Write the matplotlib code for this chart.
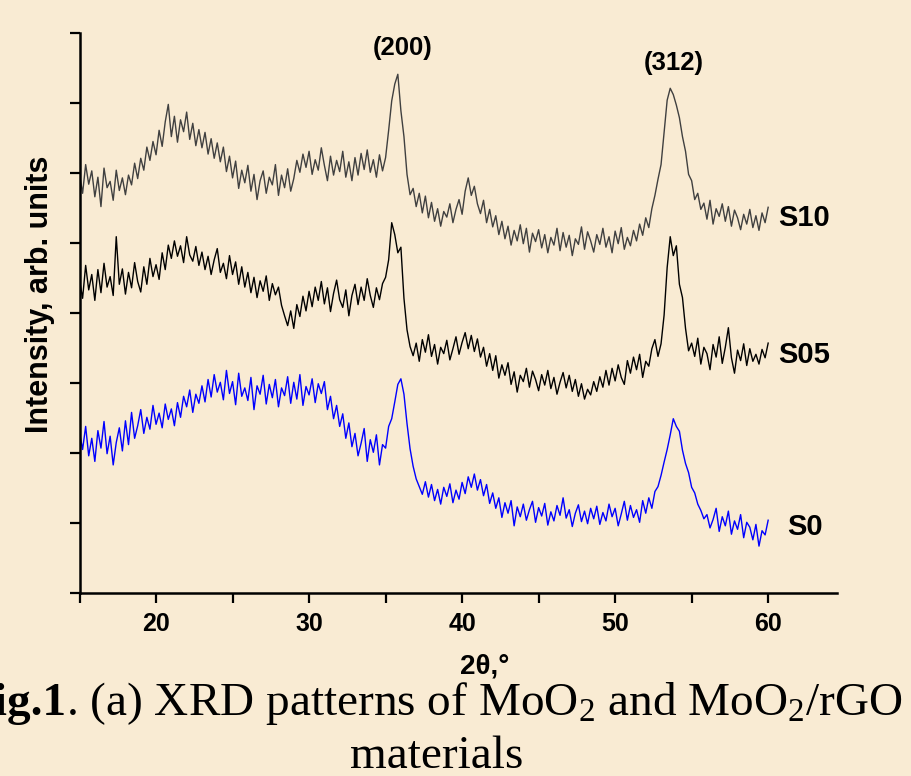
import numpy as np
import matplotlib
matplotlib.use('Agg')
import matplotlib.pyplot as plt

plt.rcParams['font.family'] = ['Liberation Sans', 'DejaVu Sans']
plt.rcParams['mathtext.fontset'] = 'custom'
plt.rcParams['mathtext.rm'] = 'Liberation Serif'
plt.rcParams['mathtext.bf'] = 'Liberation Serif:bold'
plt.rcParams['mathtext.it'] = 'Liberation Serif:italic'

# XRD patterns, 2theta 15..60 deg, step 0.2 (curves already stacked, x100)
s0 = [229, 205, 238, 196, 221, 188, 232, 207, 245, 199,
      224, 183, 215, 236, 203, 246, 212, 258, 221, 239,
      262, 228, 251, 234, 268, 241, 257, 236, 270, 248,
      263, 239, 272, 251, 281, 266, 290, 258, 284, 271,
      296, 273, 305, 280, 312, 287, 301, 276, 318, 285,
      302, 269, 314, 281, 293, 275, 308, 262, 296, 284,
      311, 270, 298, 279, 305, 266, 293, 282, 309, 271,
      301, 277, 312, 268, 295, 283, 306, 272, 299, 285,
      302, 262, 281, 249, 268, 238, 256, 221, 243, 209,
      228, 196, 214, 235, 188, 219, 201, 226, 183, 212,
      207, 238, 249, 273, 298, 306, 284, 242, 206, 181,
      163, 152, 141, 159, 137, 155, 132, 148, 127, 151,
      138, 156, 129, 147, 134, 158, 142, 166, 151, 170,
      147, 162, 139, 155, 128, 143, 121, 136, 108, 129,
      114, 132, 96, 123, 109, 127, 104, 119, 131, 101,
      122, 110, 128, 97, 116, 103, 125, 111, 136, 107,
      119, 95, 114, 126, 102, 117, 99, 121, 106, 124,
      98, 115, 103, 127, 109, 121, 96, 113, 131, 104,
      125, 108, 119, 101, 132, 114, 136, 121, 145, 152,
      168, 187, 205, 226, 249, 238, 231, 204, 185, 172,
      151, 143, 127, 118, 106, 112, 93, 105, 121, 88,
      109, 96, 117, 84, 103, 91, 112, 79, 101, 94,
      76, 98, 67, 89, 83, 104]

s05 = [447, 421, 468, 433, 455, 418, 462, 429, 471, 437,
       452, 425, 509, 441, 463, 427, 458, 436, 472, 445,
       430, 466, 441, 478, 452, 469, 448, 486, 462, 497,
       478, 503, 481, 496, 472, 509, 483, 474, 495, 468,
       487, 462, 481, 455, 476, 492, 458, 471, 449, 482,
       455, 473, 441, 466, 437, 458, 429, 451, 422, 446,
       431, 453, 418, 442, 426, 437, 411, 396, 382, 403,
       378, 412, 395, 424, 403, 431, 409, 437, 418, 445,
       413, 436, 402, 428, 447, 419, 408, 433, 396, 425,
       441, 412, 437, 418, 449, 425, 408, 436, 419, 442,
       451, 476, 529, 512, 486, 494, 421, 376, 352, 339,
       357, 331, 362, 344, 369, 338, 355, 327, 351, 342,
       361, 333, 349, 366, 341, 358, 372, 349, 368, 345,
       363, 337, 351, 324, 342, 318, 339, 307, 326, 311,
       329, 298, 316, 287, 311, 302, 321, 294, 317, 305,
       289, 312, 297, 318, 292, 308, 284, 301, 315, 293,
       311, 288, 305, 281, 299, 277, 291, 283, 302, 288,
       309, 294, 318, 297, 321, 303, 326, 308, 298, 332,
       314, 337, 319, 341, 308, 331, 324, 349, 362, 338,
       356, 397, 465, 509, 482, 496, 441, 422, 378, 346,
       357, 338, 364, 327, 351, 342, 319, 355, 337, 366,
       328, 351, 379, 336, 314, 347, 332, 356, 325, 349,
       331, 341, 327, 348, 336, 357]

s10 = [598, 571, 612, 584, 603, 566, 594, 552, 607, 579,
       588, 561, 604, 575, 593, 569, 597, 583, 614, 592,
       621, 604, 637, 618, 645, 626, 661, 638, 673, 698,
       652, 681, 644, 676, 659, 687, 648, 671, 639, 662,
       636, 658, 627, 649, 621, 643, 616, 637, 602, 624,
       593, 617, 578, 604, 586, 611, 574, 598, 562, 589,
       603, 571, 594, 583, 612, 568, 597, 579, 606, 574,
       592, 618, 601, 627, 608, 631, 598, 619, 604, 636,
       611, 589, 624, 597, 618, 602, 631, 594, 616, 589,
       622, 597, 628, 605, 633, 601, 619, 594, 626, 603,
       622, 661, 703, 727, 741, 689, 652, 598, 569, 578,
       552, 571, 543, 567, 536, 558, 531, 549, 524, 545,
       537, 556, 529, 548, 562, 541, 574, 593, 568, 581,
       556, 542, 561, 529, 548, 523, 539, 512, 531, 506,
       524, 497, 518, 503, 526, 499, 521, 487, 514, 502,
       519, 493, 512, 486, 508, 497, 521, 489, 515, 494,
       511, 482, 506, 498, 523, 491, 516, 503, 487, 512,
       498, 521, 494, 509, 486, 517, 499, 522, 491, 508,
       496, 518, 503, 527, 511, 536, 522, 549, 568, 591,
       612, 658, 704, 721, 712, 697, 679, 652, 631, 598,
       589, 562, 571, 548, 557, 534, 561, 527, 549, 538,
       556, 531, 552, 524, 547, 536, 519, 541, 527, 548,
       522, 539, 518, 543, 529, 551]

two_theta = np.linspace(15, 60, len(s0))

names = ['S10', 'S05', 'S0']
colors = ['#404040', 'black', 'blue']
name_pos = [(60.65, 5.36), (60.65, 3.40), (61.25, 0.94)]

peaks = ['(200)', '(312)']
peak_pos = [(36.1, 7.79), (53.8, 7.57)]

bg = '#f9ebd3'
fig = plt.figure(figsize=(9.11, 7.76), dpi=100, facecolor=bg)
ax = fig.add_axes([0.0873, 0.2358, 0.8315, 0.7217], facecolor=bg)

for s, c in zip([s10, s05, s0], colors):
    ax.plot(two_theta, np.array(s) / 100.0, color=c, lw=1.0)

for n, (px, py) in zip(names, name_pos):
    ax.text(px, py, n, fontsize=21, fontweight='bold', ha='left', va='center')
for p, (px, py) in zip(peaks, peak_pos):
    ax.text(px, py, p, fontsize=18.5, fontweight='bold', ha='center', va='center')

ax.set_xlim(15, 64.5)
ax.set_ylim(0, 8)
ax.set_xticks([20, 30, 40, 50, 60])
ax.set_xticks([15, 25, 35, 45, 55], minor=True)
ax.set_yticks(range(0, 9))
ax.set_yticklabels([])
for side in ['top', 'right']:
    ax.spines[side].set_visible(False)
for side in ['left', 'bottom']:
    ax.spines[side].set_linewidth(1.8)
ax.tick_params(which='both', direction='out', length=7, width=1.6)
ax.tick_params(axis='x', labelsize=18, pad=6.5)
for lab in ax.get_xticklabels():
    lab.set_fontweight('bold')

fig.text(40 / 911, 1 - 294 / 776, 'Intensity, arb. units', rotation=90,
         fontsize=22, fontweight='bold', ha='center', va='center')
fig.text(485 / 911, 1 - 673 / 776, '2θ,°', fontsize=20, fontweight='bold',
         ha='center', va='baseline')

# caption below the chart
fig.text(66 / 911, 1 - 715 / 776, 'Fig.1', fontsize=34, fontweight='bold',
         family='Liberation Serif', ha='right', va='baseline')
fig.text(66 / 911, 1 - 715 / 776,
         '. (a) XRD patterns of MoO$_2$ and MoO$_2$/rGO',
         fontsize=34, family='Liberation Serif', ha='left', va='baseline')
fig.text(437 / 911, 1 - 768 / 776, 'materials', fontsize=34,
         family='Liberation Serif', ha='center', va='baseline')

fig.savefig('out.png', dpi=100, facecolor=bg)
